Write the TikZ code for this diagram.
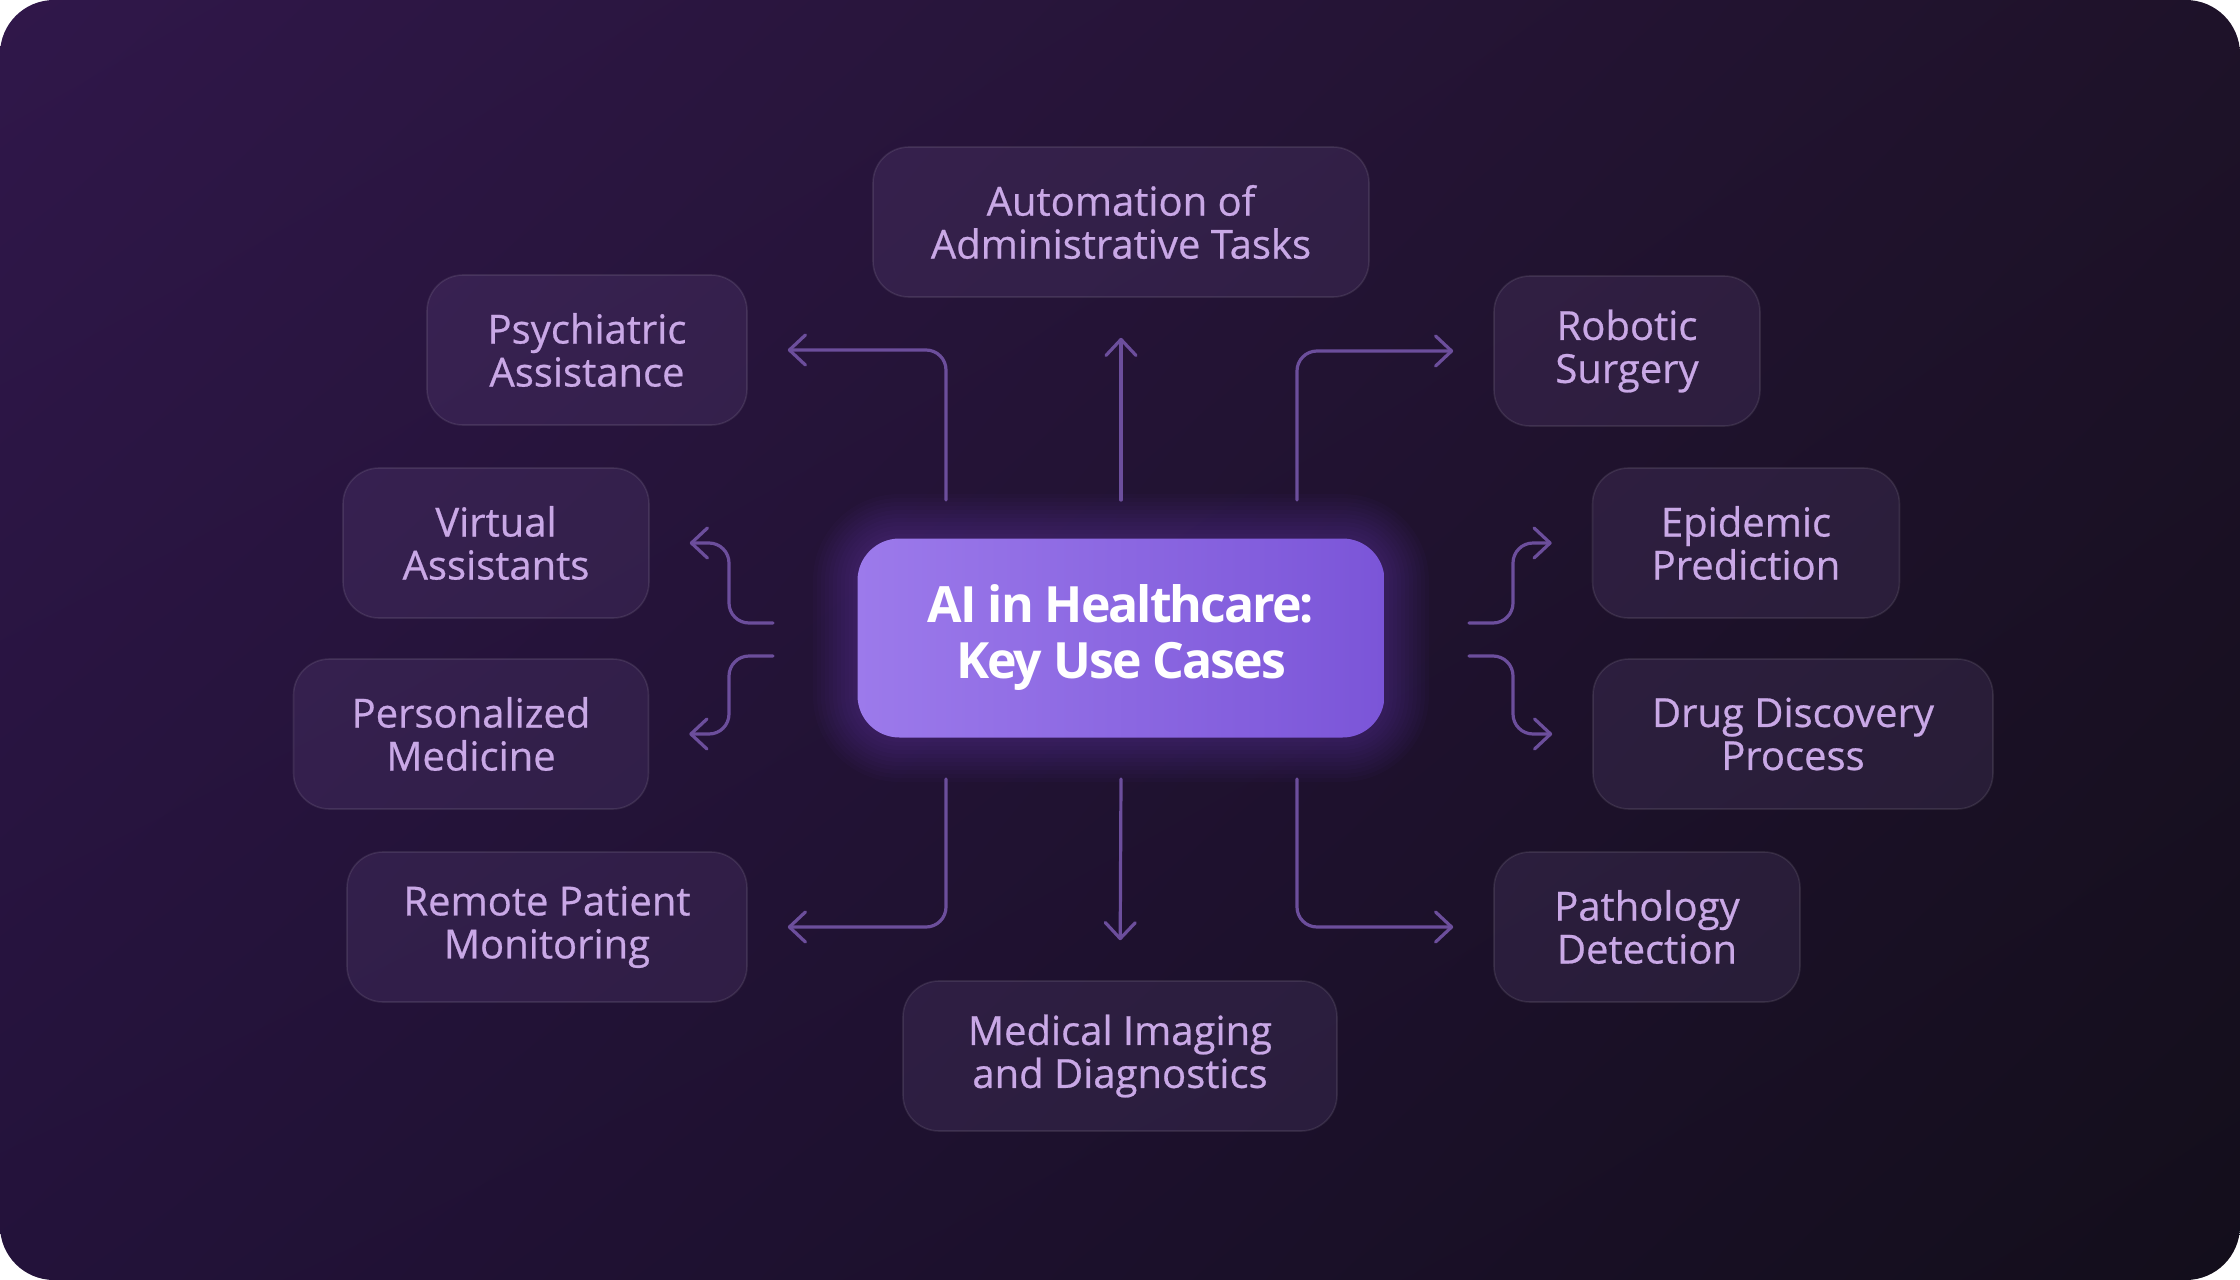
\documentclass[tikz,border=0pt]{standalone}
\usepackage{fontspec}
\setmainfont{Open Sans}
\newfontfamily\casefont{Open Sans}[FakeBold=0.6]
\newfontfamily\hubfont{Open Sans}[LetterSpace=-4]
\usetikzlibrary{arrows.meta}
\usetikzlibrary{positioning}
\usetikzlibrary{shadings}

\definecolor{bgtl}{HTML}{30174A}
\definecolor{bgtr}{HTML}{1E1229}
\definecolor{bgbl}{HTML}{23123A}
\definecolor{bgbr}{HTML}{130E1B}
\definecolor{casefill}{HTML}{C9A2FF}
\definecolor{casetext}{HTML}{C9A8E6}
\definecolor{connc}{HTML}{6C4E9C}
\definecolor{hubleft}{HTML}{9C7AEB}
\definecolor{hubright}{HTML}{7B55D8}
\definecolor{hubglow}{HTML}{7A4FD2}

\pgfdeclarelayer{bg}
\pgfdeclarelayer{glow}
\pgfsetlayers{bg,glow,main}

\begin{document}
\begin{tikzpicture}[x=0.5pt, y=-0.5pt,
                usecase/.style={rectangle, rounded corners=18pt, minimum height=75pt, align=center,
                    fill=casefill, fill opacity=0.09, draw=white, draw opacity=0.09, text opacity=1,
                    line width=0.8pt, text=casetext, font=\casefont\fontsize{20}{21.5}\selectfont},
                hub/.style={rectangle, rounded corners=21pt, minimum width=263.5pt, minimum height=99.5pt,
                    align=center, left color=hubleft, right color=hubright, text=white,
                    font=\hubfont\bfseries\fontsize{25}{28}\selectfont},
                conn/.style={draw=connc, line width=1.6pt, rounded corners=10pt, line cap=round,
                    -{Straight Barb[length=8pt,width=15pt,round]}, shorten >=20pt}
            ]
            \useasboundingbox (0,0) rectangle (2240,1280);
            \begin{pgfonlayer}{bg}
                \shade[upper left=bgtl, upper right=bgtr, lower left=bgbl, lower right=bgbr,
                    rounded corners=27pt] (0,0) rectangle (2240,1280);
            \end{pgfonlayer}

            % centre
            \node[hub] (hub) at (1121,638) {AI in Healthcare:\\Key Use Cases};
            \begin{pgfonlayer}{glow}
                \foreach \r in {2,4,...,22}
                    \fill[hubglow, opacity=0.03, rounded corners=21pt+\r pt]
                        ([shift={(-\r pt,\r pt)}]hub.north west) rectangle ([shift={(\r pt,-\r pt)}]hub.south east);
            \end{pgfonlayer}

            % use cases
            \node[usecase, minimum width=248pt] (auto) at (1121,222) {Automation of\\Administrative Tasks};
            \node[usecase, minimum width=160pt] (psy) at (587,350) {Psychiatric\\Assistance};
            \node[usecase, minimum width=133pt] (rob) at (1627,351) {Robotic\\Surgery};
            \node[usecase, minimum width=153pt] (vir) at (496,543) {Virtual\\Assistants};
            \node[usecase, minimum width=153.5pt] (epi) at (1746,543) {Epidemic\\Prediction};
            \node[usecase, minimum width=177.5pt] (per) at (471,734) {Personalized\\Medicine};
            \node[usecase, minimum width=200pt] (drug) at (1793,734) {Drug Discovery\\Process};
            \node[usecase, minimum width=200pt] (rem) at (547,927) {Remote Patient\\Monitoring};
            \node[usecase, minimum width=153pt] (path) at (1647,927) {Pathology\\Detection};
            \node[usecase, minimum width=217pt] (med) at (1120,1056) {Medical Imaging\\and Diagnostics};

            % connector starts
            \coordinate (top) at (1121,500);
            \coordinate (topl) at (946,500);
            \coordinate (topr) at (1297,500);
            \coordinate (bot) at (1121,779);
            \coordinate (botl) at (946,779);
            \coordinate (botr) at (1297,779);
            \coordinate (leftu) at (773,623);
            \coordinate (leftd) at (773,656);
            \coordinate (rightu) at (1469,623);
            \coordinate (rightd) at (1469,656);

            \draw[conn] (top) -- (auto.south);
            \draw[conn] (topl) |- (psy.east);
            \draw[conn] (topr) |- (rob.west);
            \draw[conn] (bot) -- (med.north);
            \draw[conn] (botl) |- (rem.east);
            \draw[conn] (botr) |- (path.west);
            \draw[conn] (leftu) -- ++(-44,0) |- (vir.east);
            \draw[conn] (leftd) -- ++(-44,0) |- (per.east);
            \draw[conn] (rightu) -- ++(44,0) |- (epi.west);
            \draw[conn] (rightd) -- ++(44,0) |- (drug.west);
        \end{tikzpicture}
\end{document}
